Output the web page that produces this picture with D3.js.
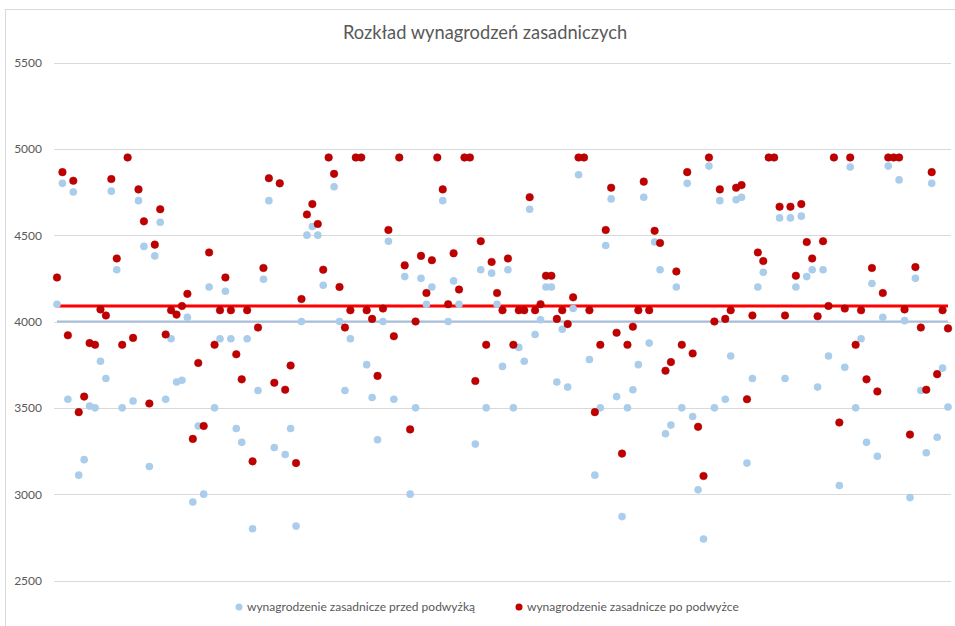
<!DOCTYPE html>
<html>
<head>
<meta charset="utf-8">
<script src="https://cdn.jsdelivr.net/npm/d3@7"></script>
<style>
  body { margin: 0; background: #fff; }
  svg text { font-family: Lato, "Open Sans", sans-serif; fill: #595959; }
</style>
</head>
<body>
<svg id="canvas" width="955" height="626"></svg>
<script>
// wynagrodzenie przed podwyzka (niebieskie)
let przed = [
  4100, 4800, 3550, 4750, 3110, 3200, 3510, 3500, 3770, 3670,
  4755, 4300, 3500, 4950, 3540, 4700, 4435, 3160, 4380, 4575,
  3550, 3900, 3650, 3660, 4025, 2955, 3395, 3000, 4200, 3500,
  3900, 4175, 3900, 3380, 3300, 3900, 2800, 3600, 4245, 4700,
  3270, 4800, 3230, 3380, 2815, 4000, 4500, 4550, 4500, 4210,
  4950, 4780, 4000, 3600, 3900, 4950, 4950, 3750, 3560, 3315,
  4000, 4465, 3550, 4950, 4260, 3000, 3500, 4250, 4100, 4200,
  4950, 4700, 4000, 4235, 4100, 4950, 4950, 3290, 4300, 3500,
  4280, 4100, 3740, 4300, 3500, 3850, 3770, 4650, 3925, 4010,
  4200, 4200, 3650, 3955, 3620, 4075, 4850, 4950, 3780, 3110,
  3500, 4440, 4710, 3565, 2870, 3500, 3605, 3750, 4720, 3875,
  4460, 4300, 3350, 3400, 4200, 3500, 4800, 3450, 3025, 2740,
  4900, 3500, 4700, 3550, 3800, 4705, 4720, 3180, 3670, 4200,
  4285, 4950, 4950, 4600, 3670, 4600, 4200, 4610, 4260, 4300,
  3620, 4300, 3800, 4950, 3050, 3735, 4895, 3500, 3900, 3300,
  4220, 3220, 4025, 4900, 4950, 4820, 4005, 2980, 4250, 3600,
  3240, 4800, 3330, 3730, 3505
]

// wynagrodzenie po podwyzce (czerwone)
let po = [
  4255, 4865, 3920, 4815, 3475, 3565, 3875, 3865, 4070, 4035,
  4825, 4365, 3865, 4950, 3905, 4765, 4580, 3525, 4445, 4650,
  3925, 4065, 4040, 4090, 4160, 3320, 3760, 3395, 4400, 3865,
  4065, 4255, 4065, 3810, 3665, 4065, 3190, 3965, 4310, 4830,
  3645, 4800, 3605, 3745, 3180, 4130, 4620, 4680, 4565, 4300,
  4950, 4855, 4200, 3965, 4065, 4950, 4950, 4065, 4015, 3685,
  4075, 4530, 3915, 4950, 4325, 3375, 4000, 4380, 4165, 4355,
  4950, 4765, 4100, 4395, 4185, 4950, 4950, 3655, 4465, 3865,
  4345, 4165, 4065, 4365, 3865, 4065, 4065, 4720, 4065, 4100,
  4265, 4265, 4015, 4065, 3985, 4140, 4950, 4950, 4065, 3475,
  3865, 4530, 4775, 3935, 3235, 3865, 3970, 4065, 4810, 4065,
  4525, 4455, 3715, 3765, 4290, 3865, 4865, 3815, 3390, 3105,
  4950, 4000, 4765, 4015, 4065, 4775, 4790, 3550, 4035, 4400,
  4350, 4950, 4950, 4665, 4035, 4665, 4265, 4680, 4460, 4365,
  4030, 4465, 4090, 4950, 3415, 4075, 4950, 3865, 4065, 3665,
  4310, 3595, 4165, 4950, 4950, 4950, 4070, 3345, 4315, 3965,
  3605, 4865, 3695, 4065, 3960
]

// srednie (linie poziome)
let sredniaPrzed = 4000
let sredniaPo = 4090

let yTicks = [2500, 3000, 3500, 4000, 4500, 5000, 5500]
let tytul = 'Rozkład wynagrodzeń zasadniczych'
let nazwySerii = ['wynagrodzenie zasadnicze przed podwyżką', 'wynagrodzenie zasadnicze po podwyżce']
let kolory = ['#a9cdea', '#c00000']

let canvas = d3.select('#canvas')

// ramka wykresu
canvas.append('rect')
  .attr('x', 5.5).attr('y', 9.5)
  .attr('width', 960).attr('height', 640)
  .attr('fill', 'none')
  .attr('stroke', '#d9d9d9')

let xScale = d3.scaleLinear()
  .domain([0, przed.length - 1])
  .range([57, 948])

let yScale = d3.scaleLinear()
  .domain([2500, 5500])
  .range([580.5, 62.5])

// siatka
canvas.append('g')
  .selectAll('line')
  .data(yTicks)
  .enter()
  .append('line')
  .attr('x1', 54).attr('x2', 951)
  .attr('y1', d => Math.round(yScale(d)) + 0.5)
  .attr('y2', d => Math.round(yScale(d)) + 0.5)
  .attr('stroke', '#d9d9d9')
  .attr('stroke-width', 1)

// os Y
let yAxis = d3.axisLeft(yScale).tickValues(yTicks).tickSize(0).tickPadding(0).tickFormat(d3.format('d'))
let yG = canvas.append('g')
  .attr('transform', 'translate(42,0)')
  .call(yAxis)
yG.select('.domain').remove()
yG.selectAll('text')
  .attr('font-size', 12)
  .style('font-family', 'Lato, sans-serif')
  .attr('fill', '#595959')

// tytul
canvas.append('text')
  .attr('x', 485)
  .attr('y', 39)
  .attr('text-anchor', 'middle')
  .attr('font-size', 18.3)
  .text(tytul)

// linie srednich
canvas.append('line')
  .attr('x1', xScale(0)).attr('x2', xScale(przed.length - 1))
  .attr('y1', yScale(sredniaPrzed)).attr('y2', yScale(sredniaPrzed))
  .attr('stroke', '#a7bddc')
  .attr('stroke-width', 2)

canvas.append('line')
  .attr('x1', xScale(0)).attr('x2', xScale(po.length - 1))
  .attr('y1', yScale(sredniaPo)).attr('y2', yScale(sredniaPo))
  .attr('stroke', '#ff0000')
  .attr('stroke-width', 3)

// punkty
canvas.append('g')
  .selectAll('circle')
  .data(przed)
  .enter()
  .append('circle')
  .attr('cx', (d, i) => xScale(i))
  .attr('cy', d => yScale(d))
  .attr('r', 3.8)
  .attr('fill', kolory[0])

canvas.append('g')
  .selectAll('circle')
  .data(po)
  .enter()
  .append('circle')
  .attr('cx', (d, i) => xScale(i))
  .attr('cy', d => yScale(d))
  .attr('r', 3.8)
  .attr('fill', kolory[1])
  .attr('stroke', '#a80000')
  .attr('stroke-width', 0.5)

// legenda
let legendX = [239, 519]
let legend = canvas.append('g')
nazwySerii.forEach((nazwa, i) => {
  legend.append('circle')
    .attr('cx', legendX[i])
    .attr('cy', 607)
    .attr('r', 3.5)
    .attr('fill', kolory[i])
  legend.append('text')
    .attr('x', legendX[i] + 8)
    .attr('y', 611)
    .attr('font-size', 12)
    .text(nazwa)
})
</script>
</body>
</html>
